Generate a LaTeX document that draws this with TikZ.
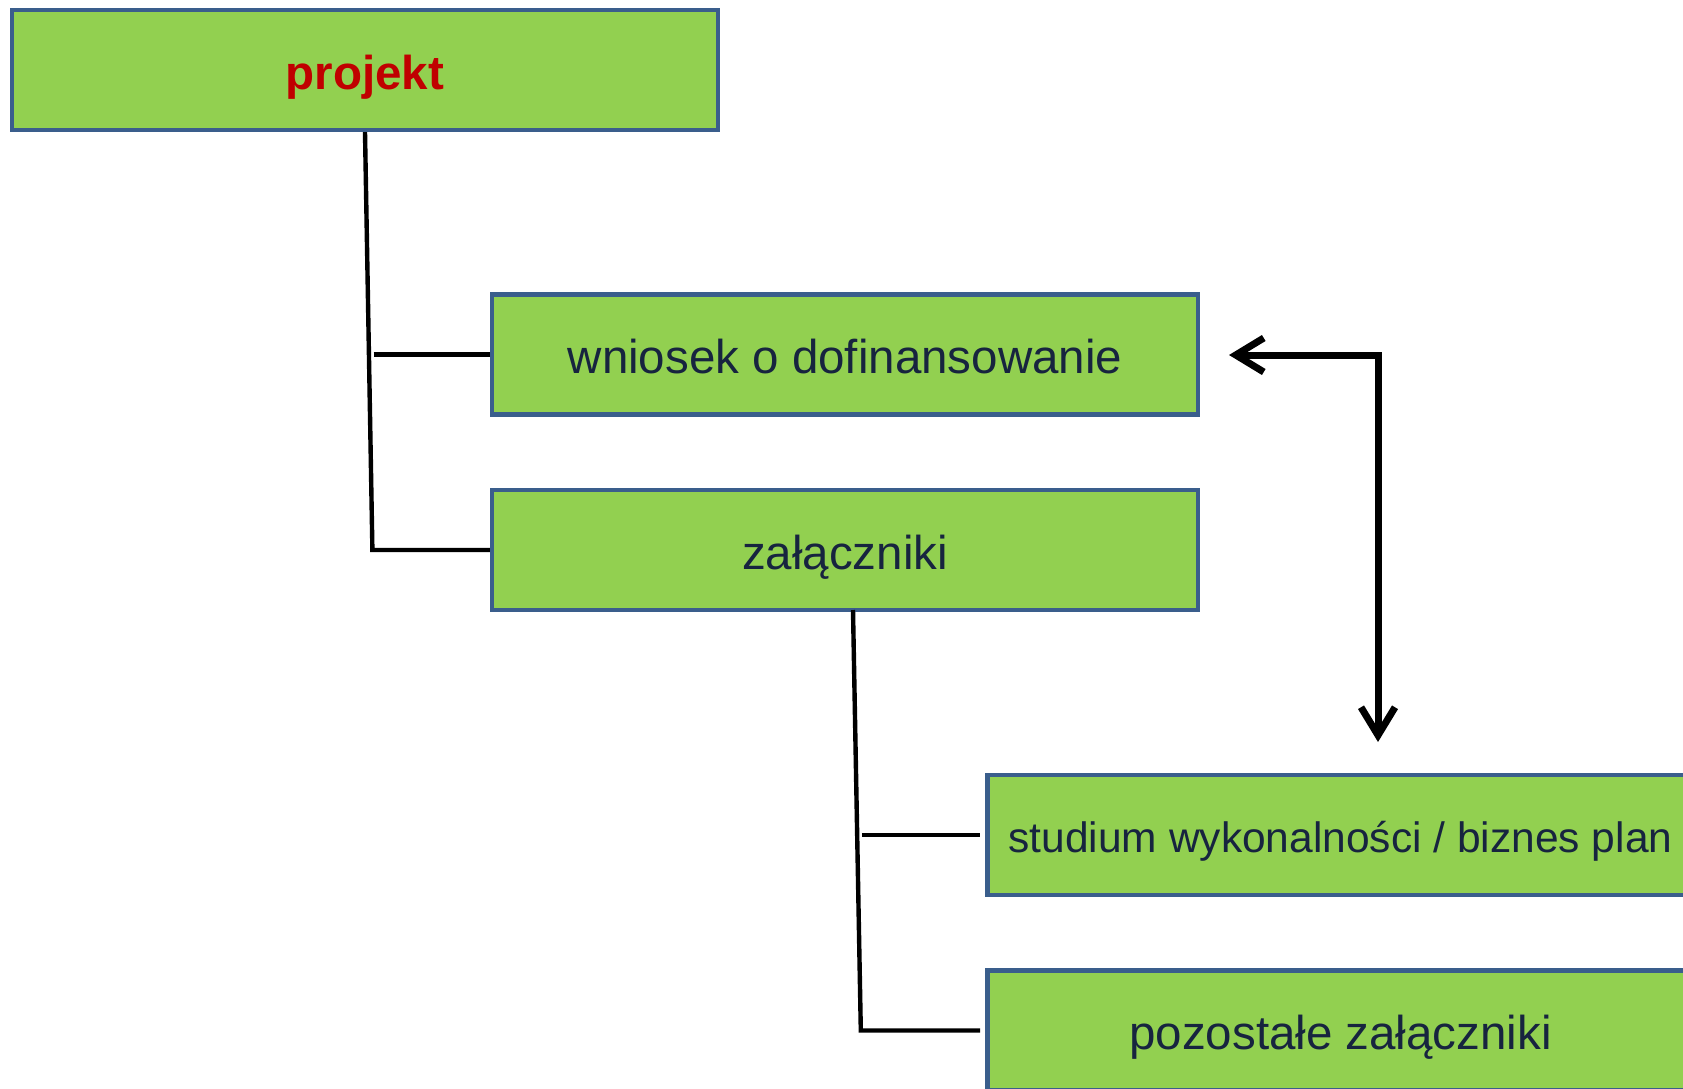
\documentclass[tikz,border=0pt]{standalone}
\usepackage{fontspec}
\setmainfont{Liberation Sans}
\usetikzlibrary{arrows.meta}
\definecolor{boxfill}{HTML}{92D050}
\definecolor{boxline}{HTML}{3A5E8C}
\definecolor{txt}{HTML}{17243F}
\definecolor{red}{HTML}{C00000}
\tikzset{
  box/.style={draw=boxline, line width=4.2pt, fill=boxfill, rectangle,
    minimum width=706pt, minimum height=120pt, inner sep=0pt,
    text=txt, font=\fontsize{47.5pt}{50pt}\selectfont,
    text height=48pt, text depth=10pt},
  conn/.style={line width=4.4pt, draw=black},
  link/.style={line width=7pt, draw=black, line cap=round, line join=miter,
    {Straight Barb[length=28pt,width=34pt,line width=7pt]}-{Straight Barb[length=28pt,width=34pt,line width=7pt]}}
}
\begin{document}
\begin{tikzpicture}[x=1pt,y=-1pt]
\useasboundingbox (0,0) rectangle (1683,1088);
\clip (0,0) rectangle (1683,1088);
\node[box, font=\fontsize{47.5pt}{50pt}\selectfont\bfseries, text=red] (projekt) at (365,70) {projekt};
\node[box] (wniosek) at (845,354.5) {wniosek o dofinansowanie};
\node[box] (zal) at (845,550) {załączniki};
\node[box, font=\fontsize{42.5pt}{45pt}\selectfont, text height=43.5pt, text depth=9pt] (studium) at (1340.5,835) {studium wykonalności / biznes plan};
\node[box] (poz) at (1340.5,1030.5) {pozostałe załączniki};
% tree of projekt
\coordinate (p1) at (373.5,354.5);
\coordinate (p2) at (372.4,550);
\draw[conn] (projekt.south) -- (p2) -- (zal.west);
\draw[conn] (p1) -- (wniosek.west);
% tree of zal
\coordinate (z0) at (853,610);
\coordinate (z1) at (861.8,835);
\coordinate (z2) at (860.8,1030.5);
\coordinate (s1) at (980,835);
\coordinate (s2) at (980,1030.5);
\draw[conn] (z0) -- (z2) -- (s2);
\draw[conn] (z1) -- (s1);
% double arrow
\coordinate (a1) at (1229,355);
\coordinate (a2) at (1378,355);
\coordinate (a3) at (1378,742);
\draw[link] (a1) -- (a2) -- (a3);
\end{tikzpicture}
\end{document}
